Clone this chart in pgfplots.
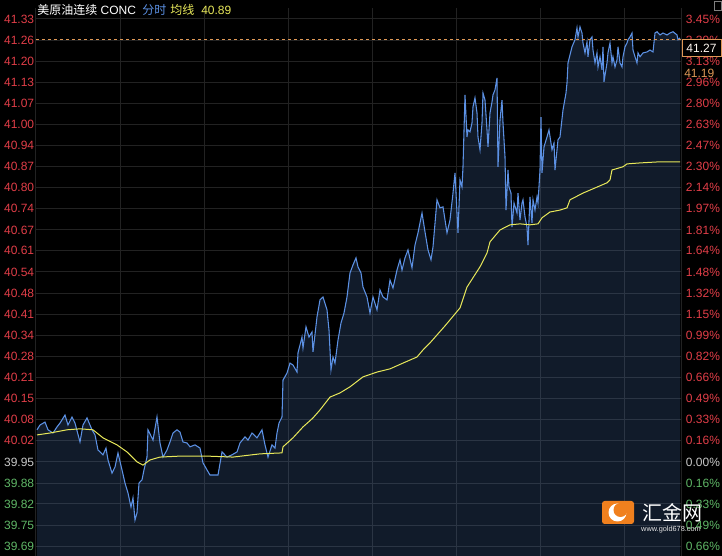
\documentclass[border=0pt]{standalone}
\usepackage{pgfplots}
\pgfplotsset{compat=1.18}
\usepackage{pgfplotstable}
\usepackage{fontspec}
\setmainfont{Liberation Sans}
\newfontfamily\cjk{Noto Sans CJK SC}
\definecolor{gridc}{RGB}{34,34,34}
\definecolor{areac}{RGB}{70,110,170}
\definecolor{linec}{RGB}{92,145,228}
\definecolor{avgc}{RGB}{232,232,90}
\definecolor{upc}{RGB}{225,62,72}
\definecolor{dnc}{RGB}{95,182,102}
\definecolor{flatc}{RGB}{200,200,200}
\definecolor{lastc}{RGB}{222,152,86}
\definecolor{logoc}{RGB}{240,128,30}

% price line, x = time index (pixel steps), p = price
\pgfplotstableread{
x p
1 40.049
4 40.064
9 40.073
12 40.049
17 40.039
21 40.058
24 40.070
29 40.095
32 40.064
36 40.089
39 40.070
44 40.011
47 40.064
51 40.086
56 40.049
59 40.033
62 39.986
67 39.971
70 39.992
72 39.955
76 39.914
79 39.933
82 39.977
86 39.924
89 39.883
92 39.852
95 39.808
97 39.837
99 39.768
101 39.790
103 39.883
106 39.893
108 39.924
111 39.964
112 40.049
117 40.017
121 40.089
124 40.008
127 39.964
131 39.986
134 40.011
137 40.039
141 40.049
144 40.042
147 40.011
151 40.008
154 39.996
159 40.002
164 39.992
167 39.946
171 39.924
174 39.908
179 39.908
182 39.908
186 39.980
191 39.964
196 39.971
201 39.980
204 40.008
209 40.027
212 40.017
216 40.039
221 40.024
226 40.049
229 40.002
232 39.964
236 40.002
239 39.992
241 40.039
243 40.070
246 40.089
247 40.204
251 40.226
254 40.257
257 40.251
261 40.229
262 40.289
266 40.338
267 40.304
270 40.370
273 40.338
276 40.354
277 40.292
281 40.401
284 40.454
287 40.463
291 40.423
293 40.360
295 40.236
297 40.276
299 40.257
302 40.329
305 40.382
308 40.413
311 40.463
314 40.538
317 40.563
320 40.585
322 40.557
325 40.538
327 40.494
331 40.463
334 40.413
337 40.463
341 40.423
344 40.485
347 40.463
351 40.454
354 40.516
357 40.491
361 40.547
364 40.579
366 40.547
369 40.585
372 40.610
376 40.554
379 40.625
382 40.663
386 40.725
389 40.666
392 40.610
395 40.579
397 40.619
401 40.766
404 40.741
407 40.744
411 40.663
414 40.703
417 40.787
419 40.850
422 40.663
424 40.828
426 40.806
427 40.869
429 41.093
431 40.962
432 40.984
434 40.978
436 41.006
437 41.056
439 41.084
441 41.037
442 40.962
444 40.922
446 41.006
447 41.099
449 41.077
451 40.984
452 40.931
454 41.037
456 41.071
457 41.093
459 41.109
461 41.146
462 40.869
464 41.015
466 41.077
467 41.006
469 40.900
470 40.734
472 40.859
473 40.806
475 40.787
476 40.681
478 40.756
481 40.725
482 40.787
484 40.703
486 40.756
487 40.766
489 40.713
491 40.681
492 40.625
494 40.775
496 40.694
497 40.766
499 40.734
501 40.775
502 40.756
504 40.859
505 41.024
506 40.850
508 40.931
511 40.962
513 40.984
516 40.922
518 40.943
519 40.859
522 40.953
524 40.962
527 41.046
530 41.099
531 41.130
532 41.193
536 41.243
539 41.265
541 41.302
542 41.274
544 41.305
546 41.286
547 41.255
549 41.224
551 41.258
552 41.212
554 41.265
556 41.274
557 41.233
559 41.193
561 41.224
562 41.180
564 41.212
566 41.171
567 41.243
568 41.134
571 41.193
572 41.224
574 41.255
576 41.193
577 41.212
579 41.180
581 41.202
582 41.243
584 41.193
586 41.180
587 41.212
589 41.243
591 41.255
592 41.265
594 41.274
596 41.286
597 41.233
599 41.212
601 41.193
602 41.224
604 41.212
607 41.224
611 41.227
614 41.233
617 41.227
619 41.286
621 41.290
624 41.280
627 41.286
631 41.280
634 41.286
637 41.290
641 41.280
642 41.265
644 41.271
}\price

% average line
\pgfplotstableread{
x p
1 40.033
14 40.039
31 40.049
44 40.052
57 40.049
67 40.024
81 40.002
91 39.980
101 39.949
107 39.939
114 39.955
124 39.964
144 39.967
171 39.967
197 39.964
224 39.974
246 39.977
247 39.996
257 40.024
267 40.058
277 40.086
284 40.111
294 40.151
304 40.164
314 40.183
327 40.214
341 40.229
354 40.239
367 40.257
381 40.276
387 40.298
394 40.320
409 40.373
424 40.429
431 40.494
444 40.557
451 40.600
454 40.635
464 40.672
474 40.688
484 40.691
494 40.688
502 40.691
506 40.710
514 40.728
524 40.734
531 40.741
534 40.766
547 40.787
571 40.819
574 40.828
576 40.859
587 40.869
591 40.878
604 40.881
621 40.884
644 40.884
}\avgline

\begin{document}
\begin{tikzpicture}
\begin{scope}[x=0.75pt,y=0.75pt]
  \fill[black] (0,0) rectangle (722,556);
\end{scope}

\pgfplotsset{
  kline/.style={
    at={(27pt,0pt)}, anchor=south west,
    scale only axis, width=483.75pt, height=411pt,
    xmin=0, xmax=645, ymin=39.6556, ymax=41.364,
    ytick={41.330,41.264,41.198,41.133,41.067,41.001,40.936,40.870,40.804,40.738,40.672,40.607,40.541,40.475,40.409,40.344,40.278,40.212,40.146,40.081,40.015,39.949,39.883,39.818,39.752,39.686},
    axis line style={draw=none},
    major tick length=0pt,
    yticklabel style={font=\fontsize{9}{10}\selectfont},
  },
}

\begin{axis}[kline,
    xtick={0,84,168,252,336,420,504,588,645},
    xticklabels={},
    grid=major,
    major grid style={gridc, line width=0.75pt},
    yticklabel style={inner sep=1.2pt},
    yticklabels={
      \textcolor{upc}{41.33},\textcolor{upc}{41.26},\textcolor{upc}{41.20},\textcolor{upc}{41.13},
      \textcolor{upc}{41.07},\textcolor{upc}{41.00},\textcolor{upc}{40.94},\textcolor{upc}{40.87},
      \textcolor{upc}{40.80},\textcolor{upc}{40.74},\textcolor{upc}{40.67},\textcolor{upc}{40.61},
      \textcolor{upc}{40.54},\textcolor{upc}{40.48},\textcolor{upc}{40.41},\textcolor{upc}{40.34},
      \textcolor{upc}{40.28},\textcolor{upc}{40.21},\textcolor{upc}{40.15},\textcolor{upc}{40.08},
      \textcolor{upc}{40.02},\textcolor{flatc}{39.95},\textcolor{dnc}{39.88},\textcolor{dnc}{39.82},
      \textcolor{dnc}{39.75},\textcolor{dnc}{39.69}},
  ]
  \addplot[draw=none, fill=areac, fill opacity=0.25] table {\price} \closedcycle;
  \addplot[linec, line width=0.8pt] table {\price};
  \addplot[avgc, line width=0.75pt] table {\avgline};
  \draw[lastc, dashed, dash pattern=on 2.5pt off 2pt, line width=0.6pt]
    (axis cs:0,41.265) -- (axis cs:645,41.265);
\end{axis}

\begin{axis}[kline,
    hide x axis,
    yticklabel pos=right,
    yticklabel style={inner sep=3.5pt, anchor=west},
    yticklabels={
      \textcolor{upc}{3.45\%},\textcolor{upc}{3.29\%},\textcolor{upc}{3.13\%},\textcolor{upc}{2.96\%},
      \textcolor{upc}{2.80\%},\textcolor{upc}{2.63\%},\textcolor{upc}{2.47\%},\textcolor{upc}{2.30\%},
      \textcolor{upc}{2.14\%},\textcolor{upc}{1.97\%},\textcolor{upc}{1.81\%},\textcolor{upc}{1.64\%},
      \textcolor{upc}{1.48\%},\textcolor{upc}{1.32\%},\textcolor{upc}{1.15\%},\textcolor{upc}{0.99\%},
      \textcolor{upc}{0.82\%},\textcolor{upc}{0.66\%},\textcolor{upc}{0.49\%},\textcolor{upc}{0.33\%},
      \textcolor{upc}{0.16\%},\textcolor{flatc}{0.00\%},\textcolor{dnc}{0.16\%},\textcolor{dnc}{0.33\%},
      \textcolor{dnc}{0.49\%},\textcolor{dnc}{0.66\%}},
  ]
\end{axis}

\begin{scope}[x=0.75pt,y=0.75pt]
  % title row
  \node[anchor=west, inner sep=0, text=white, font=\fontsize{9}{10}\selectfont]
    at (37,546) {{\cjk 美原油连续} CONC};
  \node[anchor=west, inner sep=0, text=linec, font=\fontsize{9}{10}\selectfont\cjk]
    at (142,546) {分时};
  \node[anchor=west, inner sep=0, text=avgc, font=\fontsize{9}{10}\selectfont\cjk]
    at (170,546) {均线};
  \node[anchor=west, inner sep=0, text=avgc, font=\fontsize{9}{10}\selectfont]
    at (201,546) {40.89};
  % small icon top right
  \draw[gray, line width=0.6pt] (714,546) rectangle (721,555);
  % last price box
  \filldraw[fill=black, draw=lastc, line width=0.75pt] (682,499) rectangle (721,516);
  \node[text=white!90!lastc, font=\fontsize{9}{10}\selectfont] at (701.5,507.5) {41.27};
  \node[anchor=west, inner sep=0, text=lastc, font=\fontsize{9}{10}\selectfont] at (684,483) {41.19};
  % watermark
  \fill[logoc, rounded corners=2pt] (602,32) rectangle (634,55);
  \fill[white] (617.5,43.5) circle (9);
  \fill[logoc] (620.5,46) circle (7);
  \node[text=white, font=\fontsize{15}{16}\selectfont\cjk] at (672,43) {汇金网};
  \node[text=white!80!gray, font=\fontsize{5.5}{6}\selectfont] at (671,26) {www.gold678.com};
\end{scope}
\pgfresetboundingbox
\path[use as bounding box] (0,0) rectangle (541.5pt,417pt);
\end{tikzpicture}
\end{document}
